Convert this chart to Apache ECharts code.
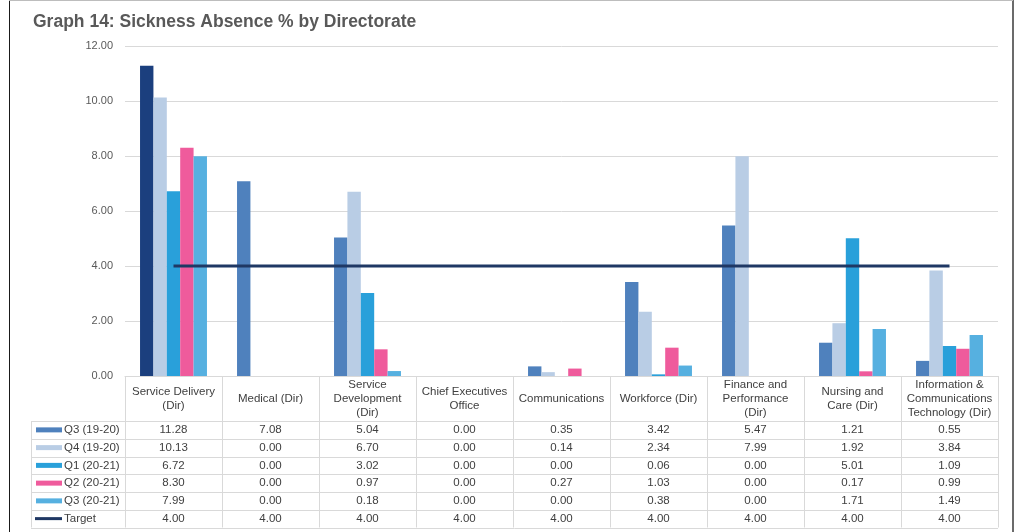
<!DOCTYPE html>
<html>
<head>
<meta charset="utf-8">
<script src="https://cdn.jsdelivr.net/npm/echarts@6/dist/echarts.min.js"></script>
<style>
  html, body { margin: 0; padding: 0; background: #ffffff; }
  #chart { width: 1026px; height: 532px; }
</style>
</head>
<body>
<div id="chart"></div>
<script>
// Directorates (header text wraps as in the table)
const categories = [
  'Service Delivery\n(Dir)',
  'Medical (Dir)',
  'Service\nDevelopment\n(Dir)',
  'Chief Executives\nOffice',
  'Communications',
  'Workforce (Dir)',
  'Finance and\nPerformance\n(Dir)',
  'Nursing and\nCare (Dir)',
  'Information &\nCommunications\nTechnology (Dir)'
];

const seriesNames = ['Q3 (19-20)', 'Q4 (19-20)', 'Q1 (20-21)', 'Q2 (20-21)', 'Q3 (20-21)', 'Target'];

const q3_1920 = [11.28, 7.08, 5.04, 0.00, 0.35, 3.42, 5.47, 1.21, 0.55];
const q4_1920 = [10.13, 0.00, 6.70, 0.00, 0.14, 2.34, 7.99, 1.92, 3.84];
const q1_2021 = [6.72, 0.00, 3.02, 0.00, 0.00, 0.06, 0.00, 5.01, 1.09];
const q2_2021 = [8.30, 0.00, 0.97, 0.00, 0.27, 1.03, 0.00, 0.17, 0.99];
const q3_2021 = [7.99, 0.00, 0.18, 0.00, 0.00, 0.38, 0.00, 1.71, 1.49];
const target  = [4.00, 4.00, 4.00, 4.00, 4.00, 4.00, 4.00, 4.00, 4.00];

const yTicks = { min: 0, max: 12, interval: 2 };

const colors = ['#4F81BD', '#B9CDE5', '#29A0DA', '#EF5B9C', '#56B0E0', '#1F3864'];
const highlightFirst = '#1B3F7E';

const FONT = "'Liberation Sans', Arial, sans-serif";
const TEXT = '#404040';
const GRID = '#D9D9D9';

const chart = echarts.init(document.getElementById('chart'), null, { renderer: 'canvas' });

const barValues = [q3_1920, q4_1920, q1_2021, q2_2021, q3_2021];

const barSeries = barValues.map((vals, s) => ({
  name: seriesNames[s],
  type: 'bar',
  barGap: '0%',
  barCategoryGap: '31%',
  itemStyle: { color: colors[s] },
  data: vals.map((v, i) => (s === 0 && i === 0)
    ? { value: v, itemStyle: { color: highlightFirst } }
    : v)
}));

chart.setOption({
  animation: false,
  backgroundColor: '#ffffff',
  textStyle: { fontFamily: FONT },
  title: {
    text: 'Graph 14: Sickness Absence % by Directorate',
    left: 28, top: 8,
    textStyle: { fontFamily: FONT, fontSize: 17.5, fontWeight: 'bold', color: '#595959' }
  },
  grid: { left: 125, right: 28, top: 46, bottom: 156, containLabel: false },
  xAxis: {
    type: 'category',
    data: categories,
    boundaryGap: true,
    axisLine: { show: true, lineStyle: { color: GRID, width: 1 } },
    axisTick: { show: false },
    axisLabel: { show: false },
    splitLine: { show: false }
  },
  yAxis: {
    type: 'value',
    min: yTicks.min, max: yTicks.max, interval: yTicks.interval,
    axisLine: { show: false },
    axisTick: { show: false },
    axisLabel: {
      margin: 12,
      fontFamily: FONT, fontSize: 11, color: '#595959',
      formatter: v => v.toFixed(2)
    },
    splitLine: { lineStyle: { color: GRID, width: 1 } }
  },
  series: barSeries.concat([{
    name: seriesNames[5],
    type: 'line',
    data: target,
    symbol: 'none',
    z: 5,
    lineStyle: { color: colors[5], width: 3 },
    itemStyle: { color: colors[5] }
  }])
});

// Data table under the plot, laid out from the axis scales
function buildTable() {
  const xs = categories.map((_, i) => chart.convertToPixel({ xAxisIndex: 0 }, i));
  const half = (xs[1] - xs[0]) / 2;
  const left = xs[0] - half;
  const right = xs[xs.length - 1] + half;
  const y0 = chart.convertToPixel({ yAxisIndex: 0 }, 0);
  const headerH = 45;
  const rowH = 17.75;
  const legendLeft = 31;
  const rows = barValues.concat([target]);
  const bottom = y0 + headerH + rowH * rows.length;
  const els = [];
  const line = (x1, y1, x2, y2) => els.push({
    type: 'line', silent: true, z: 10,
    shape: { x1, y1, x2, y2 },
    style: { stroke: GRID, lineWidth: 1 }
  });

  // horizontal rules
  line(left, y0 + 0.5, right, y0 + 0.5);
  for (let r = 0; r <= rows.length; r++) {
    const y = Math.round(y0 + headerH + rowH * r) + 0.5;
    line(legendLeft, y, right, y);
  }
  // vertical rules
  for (let c = 0; c <= categories.length; c++) {
    const x = Math.round(left + 2 * half * c) + 0.5;
    line(x, y0, x, bottom);
  }
  line(legendLeft + 0.5, y0 + headerH, legendLeft + 0.5, bottom);

  // header
  categories.forEach((name, i) => {
    els.push({
      type: 'text', silent: true, z: 11,
      x: xs[i], y: y0 + headerH / 2,
      style: {
        text: name, fill: TEXT, font: '11.5px ' + FONT,
        align: 'center', verticalAlign: 'middle', lineHeight: 14
      }
    });
  });

  // rows: legend key, series name, values
  rows.forEach((vals, r) => {
    const cy = y0 + headerH + rowH * r + rowH / 2;
    const isLine = r === rows.length - 1;
    els.push({
      type: 'rect', silent: true, z: 11,
      shape: isLine ? { x: 35, y: cy - 1.5, width: 27, height: 3 } : { x: 36, y: cy - 2.5, width: 26, height: 5 },
      style: { fill: colors[r] }
    });
    els.push({
      type: 'text', silent: true, z: 11,
      x: 64, y: cy,
      style: { text: seriesNames[r], fill: TEXT, font: '11.5px ' + FONT, align: 'left', verticalAlign: 'middle' }
    });
    vals.forEach((v, i) => {
      els.push({
        type: 'text', silent: true, z: 11,
        x: xs[i], y: cy,
        style: { text: v.toFixed(2), fill: TEXT, font: '11.5px ' + FONT, align: 'center', verticalAlign: 'middle' }
      });
    });
  });

  // outer frame
  els.push({ type: 'line', silent: true, z: 12, shape: { x1: 9.5, y1: 0, x2: 9.5, y2: 532 }, style: { stroke: '#1a1a1a', lineWidth: 1 } });
  els.push({ type: 'rect', silent: true, z: 12, shape: { x: 1012, y: 0, width: 2, height: 532 }, style: { fill: '#6b6b6b' } });
  els.push({ type: 'line', silent: true, z: 12, shape: { x1: 9, y1: 0.5, x2: 1013, y2: 0.5 }, style: { stroke: '#bdbdbd', lineWidth: 1 } });

  chart.setOption({ graphic: { elements: els } });
}
buildTable();
</script>
</body>
</html>
